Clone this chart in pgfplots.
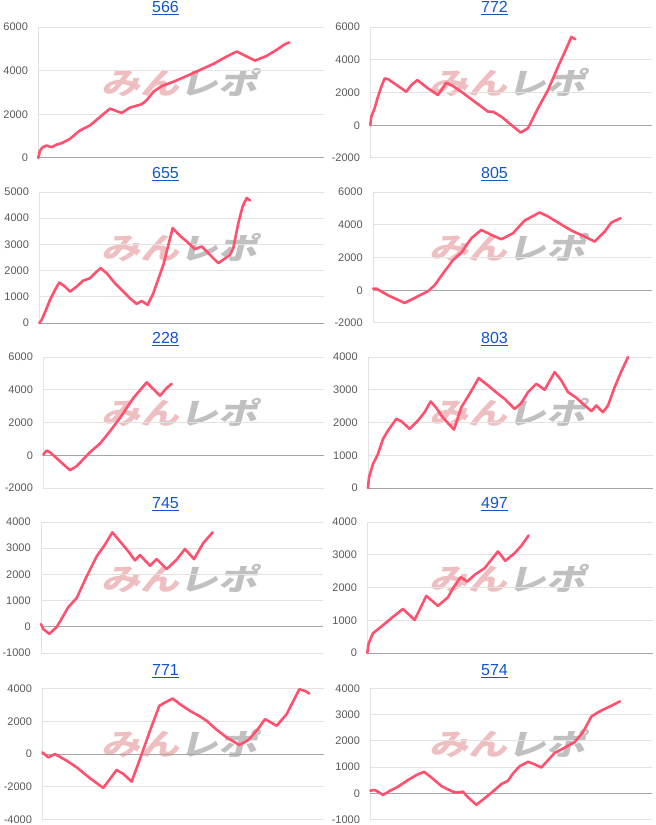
\documentclass[border=0pt]{standalone}
\usepackage{pgfplots}
\pgfplotsset{compat=1.18}
\usepackage{fontspec}
\setmainfont{Liberation Sans}
\newfontfamily\cjk{Noto Sans CJK JP}
\definecolor{linec}{RGB}{255,80,110}
\definecolor{gridc}{RGB}{226,226,226}
\definecolor{basec}{RGB}{165,165,165}
\definecolor{labc}{RGB}{90,90,90}
\definecolor{titc}{RGB}{17,85,204}
\definecolor{wmpink}{RGB}{238,190,192}
\definecolor{wmgray}{RGB}{192,192,192}
\pgfplotsset{panel/.style={
  scale only axis, height=131pt, anchor=north west,
  axis x line=none, axis y line=left,
  y axis line style={-, draw=gridc, line width=1pt},
  ymajorgrids, major grid style={draw=gridc, line width=1pt},
  ytick style={draw=none},
  scaled y ticks=false,
  /pgf/number format/assume math mode=true,
  /pgf/number format/1000 sep={},
  yticklabel style={font=\fontsize{11}{11}\selectfont, text=labc, anchor=east, inner sep=0pt, xshift=-8pt},
  extra y ticks={0}, extra y tick labels={},
  extra y tick style={major grid style={draw=basec, line width=1pt}},
  clip=false,
},
ser/.style={draw=linec, line width=2.6pt, line join=round, line cap=round, no marks}}
\newcommand{\ttl}[3]{\node[font=\fontsize{16}{16}\selectfont, text=titc, inner sep=0pt, anchor=base] (T) at (#1pt,-#2pt) {#3};
  \draw[titc, line width=1pt] ([yshift=-2pt]T.base west) -- ([yshift=-2pt]T.base east);}
\newcommand{\wm}[2]{\node[font=\cjk\bfseries\fontsize{30}{30}\selectfont, xslant=0.25, xscale=1.3, inner sep=0pt] at (#1pt,-#2pt) {\textcolor{wmpink}{みん}\textcolor{wmgray}{レポ}};}
\begin{document}
\begin{tikzpicture}
\useasboundingbox (0,0) rectangle (656pt,-825pt);
\fill[white] (0,0) rectangle (656pt,-825pt);
\wm{182}{83}\wm{510}{83}
\wm{182}{248}\wm{510}{248}
\wm{182}{413}\wm{510}{413}
\wm{182}{579}\wm{510}{579}
\wm{182}{744}\wm{510}{744}
\ttl{165.5}{12.7}{566}\ttl{494.5}{12.7}{772}
\ttl{165.5}{178.6}{655}\ttl{494.5}{178.6}{805}
\ttl{165.5}{343}{228}\ttl{494.5}{343}{803}
\ttl{165.5}{508.6}{745}\ttl{494.5}{508.6}{497}
\ttl{165.5}{675.5}{771}\ttl{494.5}{675.5}{574}
% 566
\begin{axis}[panel, at={(38.3pt,-27pt)}, width=285.7pt, xmin=115, xmax=972, ymin=0, ymax=6000, ytick={0,2000,4000,6000}]
\addplot[ser] coordinates {(115,0)(120,338)(128,492)(140,569)(155,492)(170,615)(185,677)(210,877)(240,1262)(270,1492)(300,1877)(330,2262)(365,2062)(390,2308)(425,2462)(440,2646)(460,3031)(485,3292)(520,3492)(560,3754)(600,4031)(640,4308)(680,4646)(710,4877)(765,4462)(800,4677)(830,4954)(855,5215)(868,5292)};
\end{axis}
% 772
\begin{axis}[panel, at={(370.3pt,-27pt)}, width=281.7pt, xmin=127, xmax=972, ymin=-2000, ymax=6000, ytick={-2000,0,2000,4000,6000}]
\addplot[ser] coordinates {(127,0)(130,527)(140,1034)(150,1743)(160,2351)(170,2858)(180,2818)(235,2047)(250,2453)(268,2757)(300,2250)(330,1845)(355,2595)(375,2392)(400,2047)(440,1439)(480,831)(495,831)(520,527)(550,20)(578,-446)(600,-182)(630,1034)(660,2149)(690,3568)(715,4682)(730,5392)(742,5250)};
\end{axis}
% 655
\begin{axis}[panel, at={(39.3pt,-192pt)}, width=284.7pt, xmin=118, xmax=972, ymin=0, ymax=5000, ytick={0,1000,...,5000}]
\addplot[ser] coordinates {(118,0)(125,115)(140,561)(150,880)(165,1263)(178,1543)(195,1390)(210,1199)(230,1390)(250,1620)(270,1709)(285,1901)(302,2092)(320,1901)(345,1518)(370,1199)(390,944)(410,727)(425,842)(443,689)(460,1135)(490,2219)(518,3622)(540,3329)(560,3112)(585,2819)(605,2921)(630,2602)(655,2283)(690,2602)(700,2857)(715,3814)(728,4452)(740,4770)(750,4681)};
\end{axis}
% 805
\begin{axis}[panel, at={(373pt,-192pt)}, width=279pt, xmin=135, xmax=972, ymin=-2000, ymax=6000, ytick={-2000,0,2000,4000,6000}]
\addplot[ser] coordinates {(135,102)(145,102)(180,-307)(230,-778)(270,-369)(300,-61)(320,307)(345,1024)(375,1843)(400,2294)(430,3174)(460,3686)(490,3379)(520,3113)(555,3482)(590,4260)(635,4751)(660,4506)(690,4137)(730,3645)(770,3277)(800,2970)(830,3584)(850,4137)(878,4403)};
\end{axis}
% 228
\begin{axis}[panel, at={(43.3pt,-357pt)}, width=280.7pt, xmin=130, xmax=972, ymin=-2000, ymax=6000, ytick={-2000,0,2000,4000,6000}]
\addplot[ser] coordinates {(130,41)(140,284)(150,183)(180,-365)(210,-914)(230,-670)(270,183)(300,711)(330,1462)(360,2274)(400,3492)(440,4446)(460,4040)(480,3634)(500,4101)(515,4365)};
\end{axis}
% 803
\begin{axis}[panel, at={(368pt,-357pt)}, width=285pt, xmin=120, xmax=975, ymin=0, ymax=4000, ytick={0,1000,...,4000}]
\addplot[ser] coordinates {(120,0)(123,326)(135,734)(150,1040)(165,1499)(180,1754)(205,2111)(220,2040)(245,1805)(270,2060)(290,2315)(308,2642)(325,2448)(340,2213)(360,1979)(378,1785)(400,2468)(425,2876)(452,3356)(480,3131)(510,2876)(530,2723)(560,2417)(580,2591)(600,2927)(625,3182)(650,2999)(680,3539)(700,3284)(720,2927)(745,2754)(765,2570)(790,2346)(805,2519)(825,2315)(840,2519)(860,3080)(880,3560)(900,3998)};
\end{axis}
% 745
\begin{axis}[panel, at={(41pt,-522pt)}, width=282.3pt, xmin=123, xmax=970, ymin=-1000, ymax=4000, ytick={-1000,0,...,4000}]
\addplot[ser] coordinates {(123,102)(130,-89)(148,-268)(170,-13)(190,420)(205,752)(230,1096)(260,1924)(290,2688)(315,3134)(337,3605)(360,3261)(385,2879)(405,2535)(420,2739)(450,2331)(470,2586)(500,2204)(530,2561)(555,2968)(582,2586)(610,3198)(638,3605)};
\end{axis}
% 497
\begin{axis}[panel, at={(367.3pt,-522pt)}, width=285.7pt, xmin=118, xmax=975, ymin=0, ymax=4000, ytick={0,1000,...,4000}]
\addplot[ser] coordinates {(118,0)(122,296)(135,602)(160,806)(190,1061)(225,1346)(260,1010)(295,1744)(330,1438)(360,1703)(375,1979)(398,2315)(418,2183)(440,2387)(470,2591)(490,2846)(510,3101)(532,2815)(560,3050)(580,3274)(602,3590)};
\end{axis}
% 771
\begin{axis}[panel, at={(42.3pt,-688.5pt)}, width=281.7pt, xmin=127, xmax=972, ymin=-4000, ymax=4000, ytick={-4000,-2000,0,2000,4000}]
\addplot[ser] coordinates {(127,101)(145,-203)(165,0)(200,-406)(230,-811)(270,-1480)(310,-2069)(350,-973)(370,-1217)(395,-1683)(420,-304)(450,1420)(478,2941)(495,3143)(518,3387)(540,3042)(570,2636)(600,2292)(620,2028)(650,1480)(680,1014)(718,548)(745,852)(770,1420)(795,2129)(830,1724)(860,2434)(898,3955)(915,3853)(928,3691)};
\end{axis}
% 574
\begin{axis}[panel, at={(370.3pt,-688.5pt)}, width=281.7pt, xmin=127, xmax=972, ymin=-1000, ymax=4000, ytick={-1000,0,...,4000}]
\addplot[ser] coordinates {(127,101)(140,126)(150,63)(165,-63)(185,88)(210,252)(240,505)(265,694)(288,820)(310,606)(340,278)(370,88)(385,25)(405,63)(420,-151)(445,-442)(470,-189)(500,126)(520,353)(540,480)(555,757)(575,1035)(600,1199)(615,1136)(640,984)(680,1540)(710,1742)(740,1956)(765,2335)(790,2928)(810,3092)(840,3281)(876,3508)};
\end{axis}
\end{tikzpicture}
\end{document}
